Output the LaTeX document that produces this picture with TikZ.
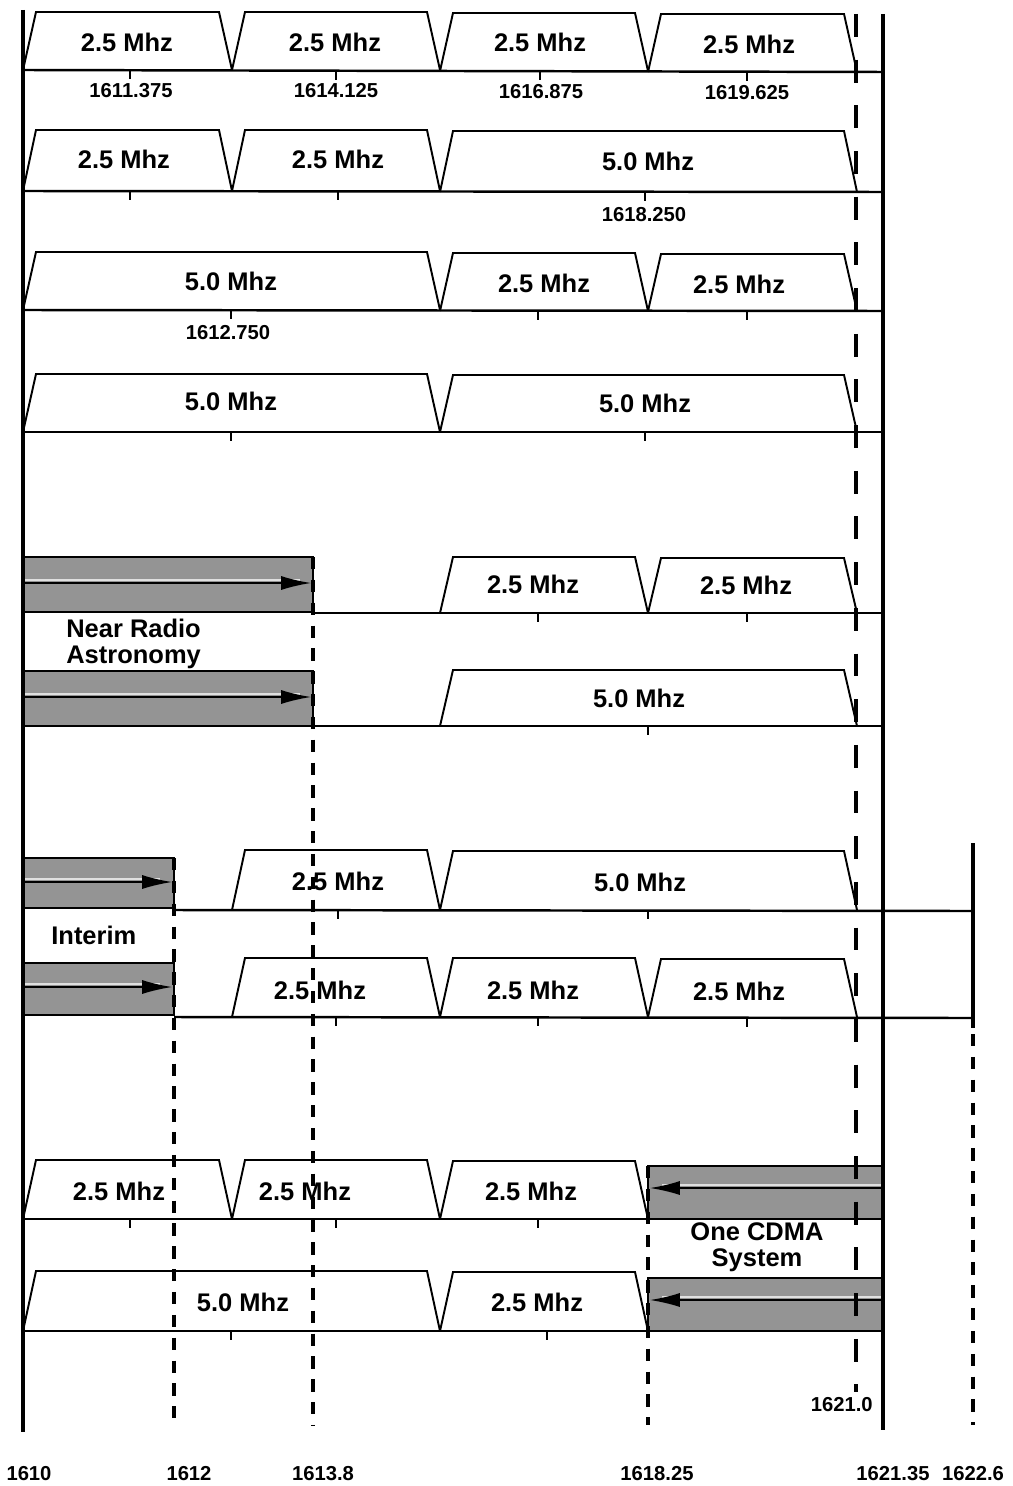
\documentclass[tikz,border=0pt]{standalone}
\usepackage{fontspec}
\setmainfont{Liberation Sans}
\usetikzlibrary{arrows.meta}
\tikzset{
  chanline/.style={line width=1.1pt, line join=miter},
  baseline/.style={line width=1.4pt},
  tickmark/.style={line width=0.9pt},
  chlabel/.style={font=\fontsize{14.5}{15}\selectfont\bfseries, inner sep=0pt},
  ticklabel/.style={font=\fontsize{11.5}{13}\selectfont\bfseries, inner sep=0pt},
  sidelabel/.style={font=\fontsize{14.5}{15}\selectfont\bfseries, inner sep=0pt},
  greybox/.style={fill=black!42, draw=black, line width=0.8pt},
  boxstripe/.style={draw=black!12, line width=1.2pt},
  boxarrow/.style={draw=black, line width=0.9pt, -{Latex[length=17pt,width=8pt]}},
  thickdash/.style={line width=2.8pt, dash pattern=on 13pt off 13pt},
  thindash/.style={line width=2.2pt, dash pattern=on 7pt off 6pt},
  solidv/.style={line width=2.2pt}
}
\newcommand\chan[4]{\draw[chanline] (#1,#4) -- ({#1+13},#3) -- ({#2-13},#3) -- (#2,#4);}
\newcommand\tck[2]{\draw[tickmark] (#1,#2) -- (#1,{#2+9});}
\begin{document}
\begin{tikzpicture}[x={(0.02cm,0)}, y={(0,-0.02cm)}]
\useasboundingbox (0,0) rectangle (1013,1486);
\fill[white] (0,0) rectangle (1013,1486);

% grey boxes (drawn first)
\draw[greybox] (23,557) rectangle (313,612);
\draw[boxstripe] (23,580) -- (300,580);
\draw[boxarrow] (23,583) -- (311,583);
\draw[greybox] (23,671) rectangle (313,726);
\draw[boxstripe] (23,694) -- (300,694);
\draw[boxarrow] (23,697) -- (311,697);
\draw[greybox] (23,858) rectangle (174,908);
\draw[boxstripe] (23,879) -- (160,879);
\draw[boxarrow] (23,882) -- (172,882);
\draw[greybox] (23,963) rectangle (174,1015);
\draw[boxstripe] (23,984) -- (160,984);
\draw[boxarrow] (23,987) -- (172,987);
\draw[greybox] (648,1166) rectangle (883,1219);
\draw[boxstripe] (883,1185) -- (662,1185);
\draw[boxarrow] (883,1188) -- (650,1188);
\draw[greybox] (648,1278) rectangle (883,1331);
\draw[boxstripe] (883,1297) -- (662,1297);
\draw[boxarrow] (883,1300) -- (650,1300);

% channels
\begin{scope}
\clip (23,0) rectangle (883,1486);
% row 1
\chan{23}{232}{12}{70}\chan{232}{440}{12}{70}\chan{440}{648}{13}{71}\chan{648}{857}{14}{72}
% row 2
\chan{23}{232}{130}{191}\chan{232}{440}{130}{191}\chan{440}{857}{131}{192}
% row 3
\chan{23}{440}{252}{310}\chan{440}{648}{253}{311}\chan{648}{857}{254}{311}
% row 4
\chan{23}{440}{374}{432}\chan{440}{857}{375}{432}
% row 5
\chan{440}{648}{557}{613}\chan{648}{857}{558}{613}
% row 6
\chan{440}{857}{670}{726}
% row 7
\chan{232}{440}{850}{910}\chan{440}{857}{851}{910}
% row 8
\chan{232}{440}{958}{1017}\chan{440}{648}{958}{1017}\chan{648}{857}{959}{1017}
% row 9
\chan{23}{232}{1160}{1219}\chan{232}{440}{1160}{1219}\chan{440}{648}{1161}{1219}
% row 10
\chan{23}{440}{1271}{1331}\chan{440}{648}{1272}{1331}
\end{scope}

% baselines
\draw[baseline] (23,70) -- (883,72);
\draw[baseline] (23,191) -- (883,192);
\draw[baseline] (23,310) -- (883,311);
\draw[baseline] (23,432) -- (883,432);
\draw[baseline] (313,613) -- (883,613);
\draw[baseline] (313,726) -- (883,726);
\draw[baseline] (174,910) -- (973,911);
\draw[baseline] (174,1017) -- (973,1018);
\draw[baseline] (23,1219) -- (648,1219);
\draw[baseline] (23,1331) -- (648,1331);

% ticks
\tck{130}{70}\tck{336}{71}\tck{540}{71}\tck{747}{72}
\tck{130}{191}\tck{338}{191}\tck{645}{192}
\tck{231}{310}\tck{538}{311}\tck{747}{311}
\tck{231}{432}\tck{645}{432}
\tck{538}{613}\tck{747}{613}
\tck{648}{726}
\tck{338}{910}\tck{648}{910}
\tck{336}{1017}\tck{538}{1017}\tck{747}{1018}
\tck{130}{1219}\tck{336}{1219}\tck{538}{1219}
\tck{231}{1331}\tck{547}{1331}

% vertical lines
\draw[solidv] (23,10) -- (23,1432);
\draw[solidv] (883,14) -- (883,1430);
\draw[solidv] (973,843) -- (973,1028);
\draw[thickdash] (856,14) -- (856,1392);
\draw[thindash] (174,858) -- (174,1425);
\draw[thindash] (313,557) -- (313,1425);
\draw[thindash] (648,1166) -- (648,1425);
\draw[thindash] (973,1034) -- (973,1425);

% channel labels
\node[chlabel] (r1a) at (127,42) {2.5 Mhz};
\node[chlabel] (r1b) at (335,42) {2.5 Mhz};
\node[chlabel] (r1c) at (540,42) {2.5 Mhz};
\node[chlabel] (r1d) at (749,44) {2.5 Mhz};
\node[ticklabel] (t1a) at (131,91) {1611.375};
\node[ticklabel] (t1b) at (336,91) {1614.125};
\node[ticklabel] (t1c) at (541,92) {1616.875};
\node[ticklabel] (t1d) at (747,93) {1619.625};
\node[chlabel] (r2a) at (124,159) {2.5 Mhz};
\node[chlabel] (r2b) at (338,159) {2.5 Mhz};
\node[chlabel] (r2c) at (648,161) {5.0 Mhz};
\node[ticklabel] (t2) at (644,215) {1618.250};
\node[chlabel] (r3a) at (231,281) {5.0 Mhz};
\node[chlabel] (r3b) at (544,283) {2.5 Mhz};
\node[chlabel] (r3c) at (739,284) {2.5 Mhz};
\node[ticklabel] (t3) at (228,333) {1612.750};
\node[chlabel] (r4a) at (231,401) {5.0 Mhz};
\node[chlabel] (r4b) at (645,403) {5.0 Mhz};
\node[chlabel] (r5a) at (533,584) {2.5 Mhz};
\node[chlabel] (r5b) at (746,585) {2.5 Mhz};
\node[chlabel] (r6a) at (639,698) {5.0 Mhz};
\node[chlabel] (r7a) at (338,881) {2.5 Mhz};
\node[chlabel] (r7b) at (640,882) {5.0 Mhz};
\node[chlabel] (r8a) at (320,990) {2.5 Mhz};
\node[chlabel] (r8b) at (533,990) {2.5 Mhz};
\node[chlabel] (r8c) at (739,991) {2.5 Mhz};
\node[chlabel] (r9a) at (119,1191) {2.5 Mhz};
\node[chlabel] (r9b) at (305,1191) {2.5 Mhz};
\node[chlabel] (r9c) at (531,1191) {2.5 Mhz};
\node[chlabel] (r10a) at (243,1302) {5.0 Mhz};
\node[chlabel] (r10b) at (537,1302) {2.5 Mhz};

% side labels
\node[sidelabel, anchor=west, align=left] (nra) at (66,644) {Near Radio\\Astronomy};
\node[sidelabel, anchor=west] (interim) at (51,935) {Interim};
\node[sidelabel, align=center] (cdma) at (757,1247) {One CDMA\\System};
\node[ticklabel, anchor=east] (f1621) at (873,1405) {1621.0};

% bottom frequency labels
\node[ticklabel] (b1610) at (29,1474) {1610};
\node[ticklabel] (b1612) at (189,1474) {1612};
\node[ticklabel] (b1613) at (323,1474) {1613.8};
\node[ticklabel] (b1618) at (657,1474) {1618.25};
\node[ticklabel] (b1621) at (893,1474) {1621.35};
\node[ticklabel] (b1622) at (973,1474) {1622.6};
\end{tikzpicture}
\end{document}
